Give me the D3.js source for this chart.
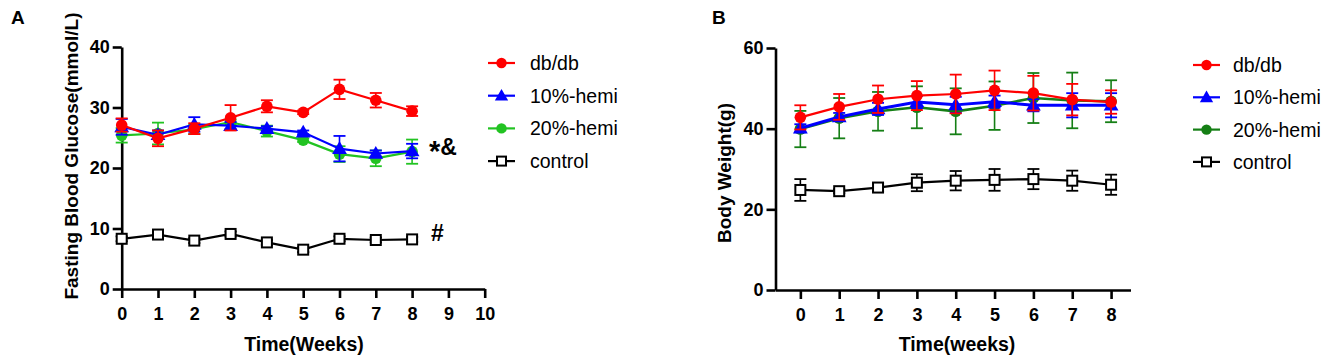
<!DOCTYPE html>
<html><head><meta charset="utf-8">
<script src="https://cdn.jsdelivr.net/npm/d3@7"></script>
<style>body{margin:0;background:#fff}svg{display:block}text{font-family:"Liberation Sans",Arial,sans-serif}</style>
</head><body>
<script>
const weeks = [0,1,2,3,4,5,6,7,8];
const seriesNames = ["db/db","10%-hemi","20%-hemi","control"];
// Panel A: fasting blood glucose (mmol/L)
const glucoseDb     = [27.1,24.9,26.5,28.3,30.2,29.2,33.0,31.2,29.4];
const glucoseDbErr  = [1.1,1.3,0.9,2.1,1.0,0.3,1.6,1.2,0.8];
const glucose10     = [26.8,25.5,27.2,27.0,26.5,25.9,23.2,22.4,22.8];
const glucose10Err  = [1.3,0.7,1.2,0.6,0.4,0.3,2.1,0.5,1.2];
const glucose20     = [25.4,25.7,26.4,27.6,26.1,24.6,22.3,21.6,22.7];
const glucose20Err  = [1.2,1.8,0.8,0.4,0.9,0.3,1.3,1.3,2.0];
const glucoseCtl    = [8.3,9.0,8.0,9.1,7.7,6.5,8.3,8.1,8.2];
const glucoseCtlErr = [0.4,0.4,0.4,0.4,0.4,0.4,0.4,0.4,0.4];
const glucoseYTicks = [0,10,20,30,40];
const glucoseXTicks = [0,1,2,3,4,5,6,7,8,9,10];
// Panel B: body weight (g)
const weightDb     = [42.8,45.4,47.3,48.2,48.6,49.5,48.8,47.2,46.6];
const weightDbErr  = [3.0,3.2,3.4,3.6,4.8,4.9,4.3,3.9,2.9];
const weight10     = [40.1,42.9,44.9,46.6,45.9,46.7,45.8,45.8,45.8];
const weight10Err  = [1.0,1.0,1.5,1.5,2.0,1.5,1.5,3.0,3.0];
const weight20     = [39.9,42.6,44.3,45.3,44.3,45.7,47.6,47.0,46.8];
const weight20Err  = [4.5,5.0,4.8,5.2,5.7,6.0,6.2,6.9,5.2];
const weightCtl    = [24.8,24.5,25.4,26.6,27.1,27.3,27.5,27.1,26.1];
const weightCtlErr = [2.7,0.5,1.0,2.1,2.4,2.7,2.5,2.5,2.5];
const weightYTicks = [0,20,40,60];
const weightXTicks = [0,1,2,3,4,5,6,7,8];

const svg = d3.select("body").append("svg").attr("width",1325).attr("height",359);

function panel(cfg){
  const g = svg.append("g");
  const x = d3.scaleLinear().domain(cfg.xDomain).range(cfg.xRange);
  const y = d3.scaleLinear().domain(cfg.yDomain).range(cfg.yRange);
  const yAxis = g.append("g").attr("transform",`translate(${cfg.xRange[0]},0)`)
    .call(d3.axisLeft(y).tickValues(cfg.yTicks).tickSize(9).tickPadding(3).tickSizeOuter(0));
  const xAxis = g.append("g").attr("transform",`translate(0,${cfg.yRange[0]})`)
    .call(d3.axisBottom(x).tickValues(cfg.xTicks).tickSize(9).tickPadding(9).tickSizeOuter(0));
  [yAxis,xAxis].forEach(a=>{
    a.select(".domain").attr("stroke","#000").attr("stroke-width",2.6);
    a.selectAll(".tick line").attr("stroke","#000").attr("stroke-width",2.6);
    a.selectAll(".tick text").attr("fill","#000").style("font-size","18px").style("font-weight","bold");
  });
  g.append("text").attr("x",cfg.xTitlePos[0]).attr("y",cfg.xTitlePos[1]).attr("text-anchor","middle")
    .style("font-size","19.5px").style("font-weight","bold").text(cfg.xTitle);
  g.append("text").attr("transform",`translate(${cfg.yTitlePos[0]},${cfg.yTitlePos[1]}) rotate(-90)`)
    .attr("text-anchor","middle").style("font-size","19px").style("font-weight","bold").text(cfg.yTitle);
  g.append("text").attr("x",cfg.letterPos[0]).attr("y",cfg.letterPos[1])
    .style("font-size","19px").style("font-weight","bold").text(cfg.letter);

  const line = d3.line().x((d,i)=>x(weeks[i])).y(d=>y(d));
  const order = [3,2,1,0];
  order.forEach(si=>{
    const s = cfg.series[si];
    const eg = g.append("g");
    s.vals.forEach((v,i)=>{
      const cx = x(weeks[i]);
      const t = y(v + s.err[i]), b = y(v - s.err[i]);
      eg.append("line").attr("x1",cx).attr("x2",cx).attr("y1",t).attr("y2",b).attr("stroke",s.color).attr("stroke-width",1.6);
      [t,b].forEach(yy=>eg.append("line").attr("x1",cx-6).attr("x2",cx+6).attr("y1",yy).attr("y2",yy).attr("stroke",s.color).attr("stroke-width",1.8));
    });
    g.append("path").datum(s.vals).attr("d",line).attr("fill","none").attr("stroke",s.color).attr("stroke-width",s.lw);
    s.vals.forEach((v,i)=>drawMarker(g, s.shape, x(weeks[i]), y(v), s.color, 1));
  });
  cfg.series.forEach((s,i)=>{
    const ly = cfg.legend.y0 + i*cfg.legend.dy;
    g.append("line").attr("x1",cfg.legend.x0).attr("x2",cfg.legend.x0+27).attr("y1",ly).attr("y2",ly).attr("stroke",s.color).attr("stroke-width",2.2);
    drawMarker(g, s.shape, cfg.legend.x0+13.5, ly, s.color, 0.9);
    g.append("text").attr("x",cfg.legend.tx).attr("y",ly).attr("dy","0.36em").style("font-size","19.5px").text(cfg.names[i]);
  });
  return {g,x,y};
}
function drawMarker(g, shape, cx, cy, color, k){
  if(shape==="circle"){
    g.append("circle").attr("cx",cx).attr("cy",cy).attr("r",5.8*k).attr("fill",color);
  } else if(shape==="triangle"){
    g.append("path").attr("d",d3.symbol(d3.symbolTriangle, 95*k*k)()).attr("transform",`translate(${cx},${cy+1})`).attr("fill",color);
  } else if(shape==="square"){
    const s=10*k;
    g.append("rect").attr("x",cx-s/2).attr("y",cy-s/2).attr("width",s).attr("height",s).attr("fill","#fff").attr("stroke","#000").attr("stroke-width",2);
  }
}

const A = panel({
  letter:"A", letterPos:[11,24],
  xDomain:[0,10], xRange:[121.7,484.7], yDomain:[0,40], yRange:[289,47],
  yTicks:glucoseYTicks, xTicks:glucoseXTicks,
  xTitle:"Time(Weeks)", xTitlePos:[304,351], yTitle:"Fasting Blood Glucose(mmol/L)", yTitlePos:[78,156],
  names:seriesNames,
  legend:{x0:488,y0:63,dy:32.7,tx:530},
  series:[
    {vals:glucoseDb,err:glucoseDbErr,color:"#ff0000",shape:"circle",lw:2.2},
    {vals:glucose10,err:glucose10Err,color:"#0000ff",shape:"triangle",lw:2.2},
    {vals:glucose20,err:glucose20Err,color:"#22c322",shape:"circle",lw:2.2},
    {vals:glucoseCtl,err:glucoseCtlErr,color:"#000000",shape:"square",lw:2.2}
  ]
});
const sig = A.g.append("text").attr("x",429).attr("y",155).style("font-weight","bold");
sig.append("tspan").style("font-size","29px").attr("dy","6").text("*");
sig.append("tspan").style("font-size","23px").attr("dy","-6").text("&");
A.g.append("text").attr("x",431).attr("y",A.y(9.3)).attr("dy","0.35em").style("font-size","23px").style("font-weight","bold").text("#");

const B = panel({
  letter:"B", letterPos:[712,24],
  xDomain:[-0.64,8.5], xRange:[775.5,1130.5], yDomain:[0,60], yRange:[290,48],
  yTicks:weightYTicks, xTicks:weightXTicks,
  xTitle:"Time(weeks)", xTitlePos:[957,351], yTitle:"Body Weight(g)", yTitlePos:[731,173],
  names:seriesNames,
  legend:{x0:1193,y0:65,dy:32.3,tx:1233},
  series:[
    {vals:weightDb,err:weightDbErr,color:"#ff0000",shape:"circle",lw:2.2},
    {vals:weight10,err:weight10Err,color:"#0000ff",shape:"triangle",lw:3},
    {vals:weight20,err:weight20Err,color:"#157f15",shape:"circle",lw:2.6},
    {vals:weightCtl,err:weightCtlErr,color:"#000000",shape:"square",lw:2.2}
  ]
});
</script>
</body></html>
